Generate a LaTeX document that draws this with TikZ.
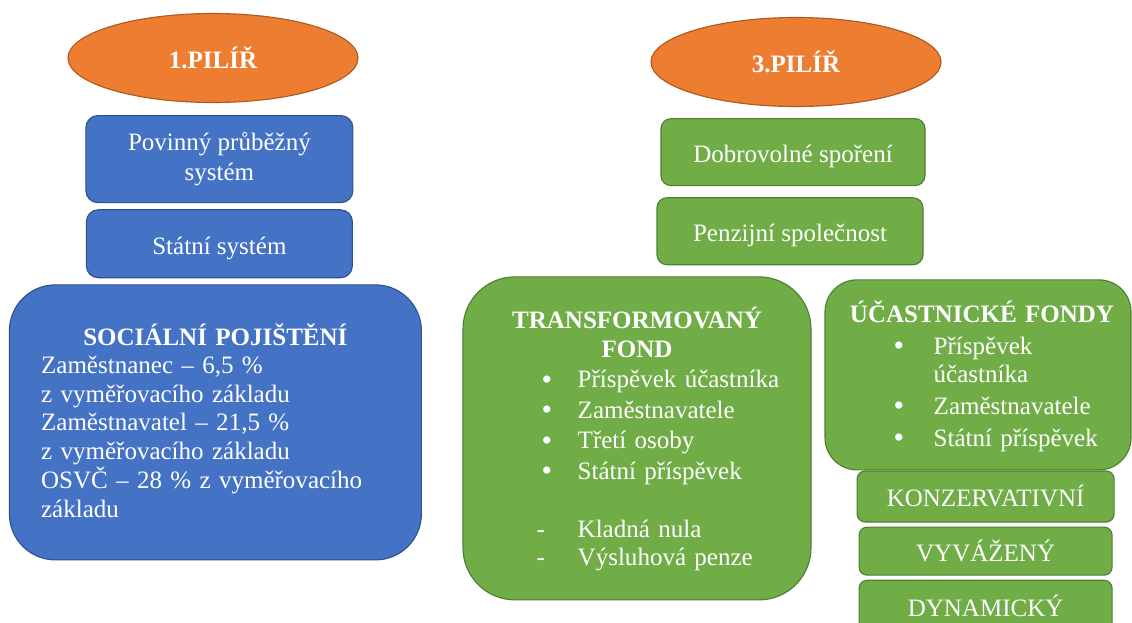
\documentclass[tikz,border=0pt]{standalone}
\usepackage{fontspec}
\setmainfont{Liberation Serif}
\usepackage{xcolor}
\usepackage{tikz}
\usetikzlibrary{positioning, shapes.geometric}

\definecolor{pilorange}{HTML}{ED7D31}
\definecolor{pilorangeline}{HTML}{AE5A21}
\definecolor{sysblue}{HTML}{4472C4}
\definecolor{sysblueline}{HTML}{2F528F}
\definecolor{fundgreen}{HTML}{70AD47}
\definecolor{fundgreenline}{HTML}{507E32}

\newcommand{\txtsize}{\fontsize{17.8pt}{20.5pt}\selectfont}
\newcommand{\bul}[2]{\makebox[#1][l]{\raisebox{-1pt}{\scalebox{1.2}{\textbullet}}}#2}
\newcommand{\dsh}[2]{\makebox[#1][l]{-}#2}

\tikzset{
  pillar/.style={ellipse, draw=pilorangeline, fill=pilorange, line width=0.8pt,
    minimum width=7.25cm, minimum height=2.225cm, text=white, font=\txtsize\bfseries,
    text height=18.5pt, text depth=3.6pt},
  bluebox/.style={rectangle, rounded corners=0.3cm, draw=sysblueline, fill=sysblue,
    line width=0.8pt, text=white, font=\txtsize, align=center},
  greenbox/.style={rectangle, rounded corners=0.25cm, draw=fundgreenline, fill=fundgreen,
    line width=0.8pt, text=white, font=\txtsize, align=center},
  oneline/.style={text height=18.5pt, text depth=3.6pt},
  boxtext/.style={inner sep=0pt, text=white, font=\txtsize, align=left},
  boxtitle/.style={inner sep=0pt, text=white, font=\txtsize\bfseries, align=center},
}

\begin{document}
\begin{tikzpicture}
\useasboundingbox (0,0) rectangle (28.3,-15.55);
\clip (0,0) rectangle (28.3,-15.55);

% 1. pilir
\node[pillar] (pil1) at (5.325,-1.45) {1.PILÍŘ};
\node[bluebox, font=\fontsize{17.8pt}{21.3pt}\selectfont, minimum width=6.675cm, minimum height=2.175cm, below = 0.3cm of pil1, xshift=0.16cm](povinny){Povinný průběžný\\systém};
\node[bluebox, oneline, minimum width=6.65cm, minimum height=1.7cm, below = 0.15cm of povinny](statni){Státní systém};
\node[bluebox, rounded corners=1.15cm, minimum width=10.3cm, minimum height=6.875cm, below = 0.15cm of statni, xshift=-0.1cm](social){};
\node[boxtitle, text width=10cm, below = 1.525cm of social.north, anchor=base](socialtitle){SOCIÁLNÍ POJIŠTĚNÍ};
\node[boxtext, text width=9cm, below right = 2.225cm and 0.8cm of social.north west, anchor=base west](socialbody){Zaměstnanec – 6,5 \%\\
z vyměřovacího základu\\
Zaměstnavatel – 21,5 \%\\
z vyměřovacího základu\\
OSVČ – 28 \% z vyměřovacího\\
základu};

% 3. pilir
\node[pillar] (pil3) at (19.9,-1.55) {3.PILÍŘ};
\node[greenbox, oneline, minimum width=6.6cm, minimum height=1.675cm, below = 0.275cm of pil3, xshift=-0.075cm](dobro){Dobrovolné spoření};
\node[greenbox, oneline, minimum width=6.65cm, minimum height=1.675cm, below = 0.275cm of dobro, xshift=-0.075cm](penzij){Penzijní společnost};

% transformovany fond
\node[greenbox, rounded corners=1.3cm, minimum width=8.7cm, minimum height=8.075cm, below = 0.275cm of penzij, xshift=-3.825cm](transf){};
\node[boxtitle, text width=8cm, below = 1.3cm of transf.north, anchor=base](transftitle){TRANSFORMOVANÝ\\FOND};
\node[boxtext, text width=6cm, font=\fontsize{17.8pt}{21.7pt}\selectfont, below right = 2.79cm and 1.975cm of transf.north west, anchor=base west](transflist){\bul{0.9cm}{Příspěvek účastníka}\\
\bul{0.9cm}{Zaměstnavatele}\\
\bul{0.9cm}{Třetí osoby}\\
\bul{0.9cm}{Státní příspěvek}};
\node[boxtext, text width=6cm, font=\fontsize{17.8pt}{19.9pt}\selectfont, below right = 6.525cm and 1.85cm of transf.north west, anchor=base west](transfdash){\dsh{1.025cm}{Kladná nula}\\
\dsh{1.025cm}{Výsluhová penze}};

% ucastnicke fondy
\node[greenbox, rounded corners=0.8cm, minimum width=7.65cm, minimum height=4.75cm, below = 0.35cm of penzij, xshift=4.7cm](ucast){};
\node[boxtitle, text width=7.4cm, below = 1.075cm of ucast.north, anchor=base, xshift=0.1cm](ucasttitle){ÚČASTNICKÉ FONDY};
\node[boxtext, text width=5.5cm, below right = 1.87cm and 1.725cm of ucast.north west, anchor=base west](ucastlist){\bul{1cm}{Příspěvek}\\
\makebox[1cm]{}účastníka\\[2pt]
\bul{1cm}{Zaměstnavatele}\\[2pt]
\bul{1cm}{Státní příspěvek}};

\node[greenbox, oneline, rounded corners=0.2cm, minimum width=6.425cm, minimum height=1.275cm, below = 0cm of ucast, xshift=0.19cm](konz){KONZERVATIVNÍ};
\node[greenbox, oneline, rounded corners=0.2cm, minimum width=6.325cm, minimum height=1.2cm, below = 0.1cm of konz](vyvaz){VYVÁŽENÝ};
\node[greenbox, oneline, rounded corners=0.2cm, minimum width=6.325cm, minimum height=1.3cm, below = 0.1cm of vyvaz](dyna){DYNAMICKÝ};
\end{tikzpicture}
\end{document}
